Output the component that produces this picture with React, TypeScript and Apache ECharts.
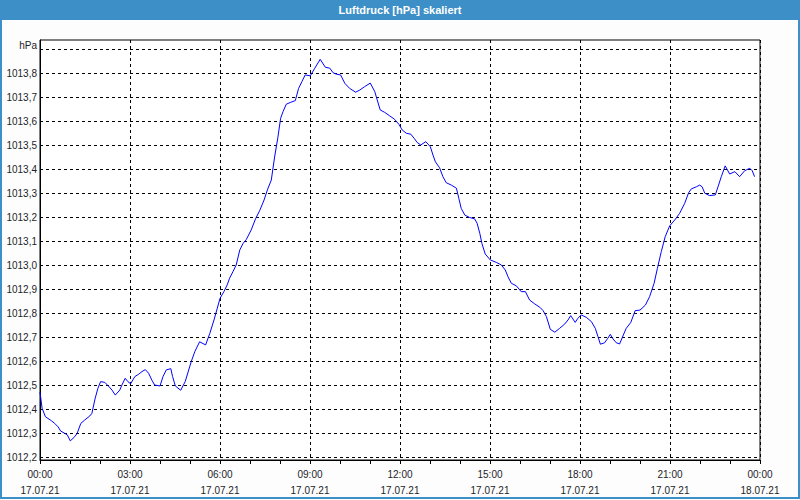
import React, { useEffect, useRef } from "react";
import * as echarts from "echarts";

const titleText = "Luftdruck [hPa] skaliert";

const hours = [
  0.0, 0.07, 0.18, 0.38, 0.49, 0.6, 0.69, 0.82, 0.91, 1.01, 1.16, 1.24, 1.36, 1.49, 1.66, 1.73, 1.84, 1.93,
  2.02, 2.16, 2.27, 2.4, 2.51, 2.66, 2.73, 2.84, 2.93, 3.02, 3.16, 3.29, 3.4, 3.51, 3.62, 3.73, 3.82, 4.0,
  4.1, 4.21, 4.36, 4.42, 4.51, 4.69, 4.84, 5.04, 5.16, 5.32, 5.52, 5.66, 5.8, 5.91, 6.0, 6.13, 6.24, 6.32,
  6.43, 6.54, 6.66, 6.77, 6.88, 7.04, 7.19, 7.32, 7.47, 7.58, 7.71, 7.82, 7.93, 8.02, 8.1, 8.21, 8.36, 8.51,
  8.62, 8.73, 8.84, 9.01, 9.16, 9.34, 9.51, 9.66, 9.77, 9.88, 10.02, 10.16, 10.32, 10.52, 10.66, 10.82,
  11.01, 11.16, 11.24, 11.34, 11.49, 11.66, 11.82, 11.97, 12.07, 12.21, 12.36, 12.47, 12.57, 12.69, 12.86,
  13.01, 13.1, 13.18, 13.32, 13.43, 13.54, 13.71, 13.88, 13.96, 14.04, 14.16, 14.32, 14.49, 14.57, 14.66,
  14.73, 14.84, 15.01, 15.21, 15.38, 15.51, 15.6, 15.71, 15.88, 16.04, 16.18, 16.32, 16.49, 16.66, 16.77,
  16.88, 17.01, 17.16, 17.32, 17.49, 17.6, 17.69, 17.84, 17.93, 18.04, 18.21, 18.38, 18.51, 18.6, 18.68,
  18.82, 18.93, 19.01, 19.1, 19.21, 19.32, 19.43, 19.54, 19.69, 19.84, 20.0, 20.18, 20.32, 20.47, 20.58,
  20.71, 20.84, 20.99, 21.16, 21.32, 21.49, 21.62, 21.71, 21.88, 21.99, 22.07, 22.16, 22.32, 22.51, 22.6,
  22.71, 22.84, 22.99, 23.16, 23.32, 23.49, 23.66, 23.74, 23.82,
];

const pressure = [
  1012.47, 1012.403, 1012.368, 1012.351, 1012.34, 1012.326, 1012.308, 1012.299, 1012.292, 1012.267, 1012.285,
  1012.299, 1012.34, 1012.354, 1012.371, 1012.382, 1012.445, 1012.486, 1012.514, 1012.511, 1012.497, 1012.479,
  1012.458, 1012.479, 1012.5, 1012.528, 1012.514, 1012.505, 1012.535, 1012.545, 1012.556, 1012.564, 1012.549,
  1012.52, 1012.5, 1012.496, 1012.535, 1012.563, 1012.568, 1012.535, 1012.496, 1012.478, 1012.514, 1012.597,
  1012.639, 1012.68, 1012.667, 1012.715, 1012.771, 1012.82, 1012.861, 1012.889, 1012.917, 1012.945, 1012.972,
  1013.0, 1013.063, 1013.09, 1013.107, 1013.146, 1013.194, 1013.226, 1013.271, 1013.313, 1013.354, 1013.45,
  1013.532, 1013.611, 1013.639, 1013.67, 1013.678, 1013.685, 1013.736, 1013.764, 1013.792, 1013.788, 1013.82,
  1013.857, 1013.824, 1013.82, 1013.801, 1013.795, 1013.792, 1013.757, 1013.736, 1013.72, 1013.729, 1013.743,
  1013.758, 1013.722, 1013.688, 1013.646, 1013.636, 1013.621, 1013.607, 1013.585, 1013.563, 1013.549, 1013.545,
  1013.528, 1013.511, 1013.5, 1013.514, 1013.493, 1013.458, 1013.43, 1013.405, 1013.368, 1013.343, 1013.333,
  1013.32, 1013.278, 1013.236, 1013.208, 1013.198, 1013.192, 1013.174, 1013.132, 1013.09, 1013.046, 1013.021,
  1013.011, 1013.0, 1012.979, 1012.951, 1012.924, 1012.913, 1012.889, 1012.889, 1012.854, 1012.838, 1012.824,
  1012.81, 1012.785, 1012.732, 1012.72, 1012.736, 1012.754, 1012.771, 1012.789, 1012.761, 1012.778, 1012.792,
  1012.782, 1012.764, 1012.736, 1012.701, 1012.67, 1012.676, 1012.695, 1012.711, 1012.692, 1012.676, 1012.671,
  1012.704, 1012.736, 1012.76, 1012.81, 1012.812, 1012.833, 1012.868, 1012.924, 1012.986, 1013.056, 1013.118,
  1013.163, 1013.188, 1013.215, 1013.257, 1013.301, 1013.317, 1013.326, 1013.333, 1013.326, 1013.299, 1013.289,
  1013.292, 1013.326, 1013.368, 1013.413, 1013.379, 1013.389, 1013.368, 1013.393, 1013.403, 1013.393, 1013.368,
];

const xTickTimes = ["00:00", "03:00", "06:00", "09:00", "12:00", "15:00", "18:00", "21:00", "00:00"];
const xTickDates = ["17.07.21", "17.07.21", "17.07.21", "17.07.21", "17.07.21", "17.07.21", "17.07.21", "17.07.21", "18.07.21"];

const yTickValues = [
  1012.2, 1012.3, 1012.4, 1012.5, 1012.6, 1012.7, 1012.8, 1012.9, 1013.0, 1013.1, 1013.2, 1013.3, 1013.4,
  1013.5, 1013.6, 1013.7, 1013.8, 1013.9,
];
const yUnitLabel = "hPa";

const FONT = "'Liberation Sans', Arial, sans-serif";
const BLUE = "#3c8fc7";

export default function App() {
  const ref = useRef<HTMLDivElement>(null);

  useEffect(() => {
    document.body.style.margin = "0";
    const chart = echarts.init(ref.current!, null, { renderer: "svg" });
    const data = hours.map((h, i) => [h, pressure[i]]);
    chart.setOption({
      animation: false,
      backgroundColor: "#fcfdfc",
      textStyle: { fontFamily: FONT },
      grid: {
        left: 40,
        top: 40,
        width: 720,
        height: 420,
        show: true,
        backgroundColor: "#ffffff",
        borderColor: "#000",
        borderWidth: 1,
        containLabel: false,
        outerBoundsMode: "none",
      },
      xAxis: {
        type: "value",
        min: 0,
        max: 24,
        interval: 3,
        axisLine: { show: true, lineStyle: { color: "#000", width: 1 } },
        axisTick: { show: true, length: 4, lineStyle: { color: "#000" } },
        minorTick: { show: true, splitNumber: 3, length: 4, lineStyle: { color: "#000" } },
        splitLine: { show: true, lineStyle: { color: "#000", type: [3, 3], width: 1 } },
        axisLabel: {
          margin: 6,
          fontSize: 10,
          lineHeight: 16,
          color: "#1e1e2a",
          fontFamily: FONT,
          formatter: (v: number) => {
            const i = Math.round(v / 3);
            return `${xTickTimes[i]}\n${xTickDates[i]}`;
          },
        },
      },
      yAxis: {
        type: "value",
        min: 1012.1875,
        max: 1013.9375,
        axisLine: { show: true, lineStyle: { color: "#000", width: 1 } },
        axisTick: { show: false, customValues: yTickValues },
        splitLine: { show: true, lineStyle: { color: "#000", type: [3, 3], width: 1 } },
        axisLabel: {
          customValues: yTickValues,
          margin: 3,
          fontSize: 10,
          color: "#1e1e2a",
          fontFamily: FONT,
          formatter: (v: number) => (v > 1013.85 ? "" : v.toFixed(1).replace(".", ",")),
        },
      },
      graphic: [
        {
          type: "rect",
          shape: { x: 0, y: 0, width: 800, height: 20 },
          style: { fill: BLUE },
          silent: true,
        },
        {
          type: "text",
          x: 400,
          y: 10,
          style: {
            text: titleText,
            fill: "#ffffff",
            font: `bold 11px ${FONT}`,
            align: "center",
            verticalAlign: "middle",
          },
          silent: true,
        },
        {
          type: "rect",
          shape: { x: 1, y: 1, width: 798, height: 497 },
          style: { fill: "none", stroke: BLUE, lineWidth: 2 },
          silent: true,
        },
        {
          type: "text",
          x: 37,
          y: 45,
          style: {
            text: yUnitLabel,
            fill: "#1e1e2a",
            font: `10px ${FONT}`,
            align: "right",
            verticalAlign: "middle",
          },
          silent: true,
        },
      ],
      series: [
        {
          type: "line",
          data,
          showSymbol: false,
          symbol: "none",
          smooth: false,
          lineStyle: { color: "#0000ff", width: 1 },
        },
      ],
    });
    return () => chart.dispose();
  }, []);

  return <div ref={ref} style={{ position: "absolute", left: 0, top: 0, width: 800, height: 500 }} />;
}
